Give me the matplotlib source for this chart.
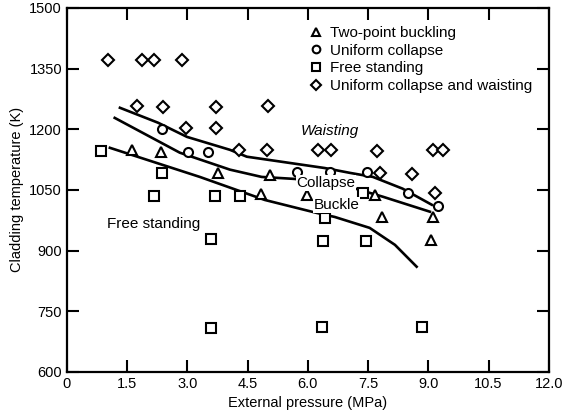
import matplotlib
matplotlib.use("Agg")
import matplotlib.pyplot as plt

plt.rcParams['font.family'] = ['Liberation Sans', 'DejaVu Sans']

# points (pressure MPa, temperature K)
buckle_p = [1.63, 2.34, 3.76, 5.05, 4.83, 5.97, 7.67, 7.85, 9.12, 9.06]
buckle_t = [1149, 1144, 1092, 1087, 1039, 1038, 1038, 983, 983, 926]

collapse_p = [2.36, 3.01, 3.52, 5.73, 6.55, 7.48, 8.50, 9.24]
collapse_t = [1200, 1144, 1144, 1095, 1095, 1093, 1043, 1010]

free_p = [0.85, 2.36, 2.17, 3.68, 4.31, 3.58, 3.58, 6.42, 6.37, 7.44, 6.35, 8.84, 7.37]
free_t = [1146, 1092, 1035, 1035, 1035, 929, 709, 981, 924, 924, 711, 711, 1043]

waist_p = [1.02, 1.87, 2.17, 2.86, 1.74, 2.39, 3.71, 5.0, 2.96, 3.72, 4.28, 4.98,
           6.25, 6.57, 7.72, 9.11, 9.36, 7.79, 8.59, 9.16]
waist_t = [1371, 1370, 1370, 1371, 1258, 1255, 1255, 1258, 1203, 1203, 1149, 1149,
           1149, 1149, 1146, 1149, 1149, 1092, 1090, 1043]

# hand drawn boundary curves
waisting_curve_p = [1.32, 2.27, 2.99, 4.06, 4.48, 6.42, 7.05, 7.62, 8.36, 9.09]
waisting_curve_t = [1253, 1216, 1181, 1149, 1132, 1104, 1092, 1082, 1053, 1013]
collapse_curve_p = [1.19, 2.81, 4.06, 4.85, 5.68, 7.05, 7.87, 9.04]
collapse_curve_t = [1228, 1142, 1100, 1082, 1077, 1057, 1033, 996]
buckle_curve_p = [1.07, 3.31, 4.93, 6.22, 6.67, 7.54, 8.17, 8.71]
buckle_curve_t = [1154, 1082, 1025, 993, 983, 956, 914, 860]

xticks = [0, 1.5, 3.0, 4.5, 6.0, 7.5, 9.0, 10.5, 12.0]
xticklabels = ['0', '1.5', '3.0', '4.5', '6.0', '7.5', '9.0', '10.5', '12.0']
yticks = [600, 750, 900, 1050, 1200, 1350, 1500]

fig = plt.figure(figsize=(5.77, 4.15), dpi=100)
ax = fig.add_axes([0.116, 0.104, 0.835, 0.877])

mk = dict(linestyle='none', mfc='white', mec='black', mew=1.5, ms=6.5)
ax.plot(buckle_p, buckle_t, marker='^', label='Two-point buckling', **mk)
ax.plot(collapse_p, collapse_t, marker='o', label='Uniform collapse', **mk)
ax.plot(free_p, free_t, marker='s', label='Free standing', **mk)
ax.plot(waist_p, waist_t, marker='D', label='Uniform collapse and waisting',
        **dict(mk, ms=6))

for cp, ct in [(waisting_curve_p, waisting_curve_t),
               (collapse_curve_p, collapse_curve_t),
               (buckle_curve_p, buckle_curve_t)]:
    ax.plot(cp, ct, color='black', lw=1.9, zorder=1)

ax.text(6.55, 1196, 'Waisting', style='italic', fontsize=11, ha='center', va='center')
ax.text(6.45, 1067, 'Collapse', fontsize=11, ha='center', va='center',
        bbox=dict(fc='white', ec='none', pad=0.5))
ax.text(6.72, 1013, 'Buckle', fontsize=11, ha='center', va='center',
        bbox=dict(fc='white', ec='none', pad=0.5))
ax.text(1.0, 966, 'Free standing', fontsize=11, ha='left', va='center')

ax.set_xlim(0, 12)
ax.set_ylim(600, 1500)
ax.set_xticks(xticks)
ax.set_xticklabels(xticklabels)
ax.set_yticks(yticks)
ax.tick_params(direction='in', length=8.5, width=1.5, labelsize=10.5,
               top=True, right=True, pad=3.5)
for s in ax.spines.values():
    s.set_linewidth(1.6)

ax.set_xlabel('External pressure (MPa)', fontsize=10.5)
ax.set_ylabel('Cladding temperature (K)', fontsize=10.5)
ax.xaxis.set_label_coords(0.5, -0.066)
ax.yaxis.set_label_coords(-0.09, 0.5)

ax.legend(loc='upper left', bbox_to_anchor=(0.504, 0.95), frameon=False,
          fontsize=11, labelspacing=0.24, handlelength=0.8, handletextpad=0.5,
          borderpad=0, borderaxespad=0, markerscale=0.85)

fig.savefig('out.png', dpi=100)
